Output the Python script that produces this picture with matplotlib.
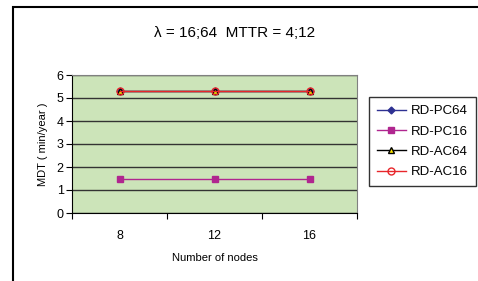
import matplotlib
matplotlib.use("Agg")
import matplotlib.pyplot as plt
from matplotlib.patches import Rectangle
import numpy as np

categories = ["8", "12", "16"]
rd_pc64 = [5.3, 5.3, 5.3]
rd_pc16 = [1.5, 1.5, 1.5]
rd_ac64 = [5.3, 5.3, 5.3]
rd_ac16 = [5.3, 5.3, 5.3]
yticks = [0, 1, 2, 3, 4, 5, 6]

plt.rcParams['font.family'] = ['Liberation Sans', 'DejaVu Sans']

W, H = 478, 281
fig = plt.figure(figsize=(W/100, H/100), dpi=100)
fig.patch.set_facecolor('white')
fig.patches.append(Rectangle((13/W, -0.05), 1.2, 1 - 7/H + 0.05, transform=fig.transFigure,
                             fill=False, edgecolor='black', linewidth=1.5))

ax = fig.add_axes([72/W, 1 - 213/H, (357-72)/W, (213-75)/H])
ax.set_facecolor('#CCE4B9')
x = np.arange(len(categories)) + 0.5

ax.plot(x, rd_pc64, color='#2E3192', marker='D', markersize=3.5, linewidth=1, label='RD-PC64', zorder=3)
ax.plot(x, rd_pc16, color='#B0268F', marker='s', markersize=5, linewidth=1,
        markerfacecolor='#B0268F', label='RD-PC16', zorder=3)
ax.plot(x, rd_ac64, color='black', marker='^', markersize=5, linewidth=1,
        markerfacecolor='#FFE800', markeredgecolor='black', label='RD-AC64', zorder=4)
ax.plot(x, rd_ac16, color='#E8262B', marker='o', markersize=5, linewidth=1,
        markerfacecolor='none', markeredgecolor='#E8262B', label='RD-AC16', zorder=5)

ax.set_xlim(0, 3)
ax.set_ylim(0, 6)
ax.set_yticks(yticks)
ax.set_xticks([0, 1, 2, 3])
ax.set_xticklabels([])
ax.set_xticks(x, minor=True)
ax.set_xticklabels(categories, minor=True)
ax.tick_params(axis='x', which='minor', length=0, pad=12, labelsize=9)
ax.tick_params(axis='x', which='major', length=4, direction='out')
ax.tick_params(axis='y', length=4, direction='out', labelsize=9, pad=2)
ax.yaxis.grid(True, color='#333333', linewidth=1)
ax.set_axisbelow(True)
for s in ['top', 'right']:
    ax.spines[s].set_color('#808080')
ax.spines['left'].set_color('black')
ax.spines['bottom'].set_color('black')

ax.set_ylabel('MDT ( min/year )', fontsize=8, labelpad=6)
ax.set_xlabel('Number of nodes', fontsize=8, labelpad=8)

fig.text(235/W, 1 - 33/H, 'λ = 16;64  MTTR = 4;12', ha='center', va='center', fontsize=11)

leg = fig.legend(loc='upper left', bbox_to_anchor=(369/W, 1 - 97/H), fontsize=9.5,
                 frameon=True, fancybox=False, edgecolor='black', handlelength=2.2,
                 borderpad=0.6, labelspacing=0.62, handletextpad=0.4, borderaxespad=0)
leg.get_frame().set_linewidth(1)

fig.savefig('out.png', dpi=100)
